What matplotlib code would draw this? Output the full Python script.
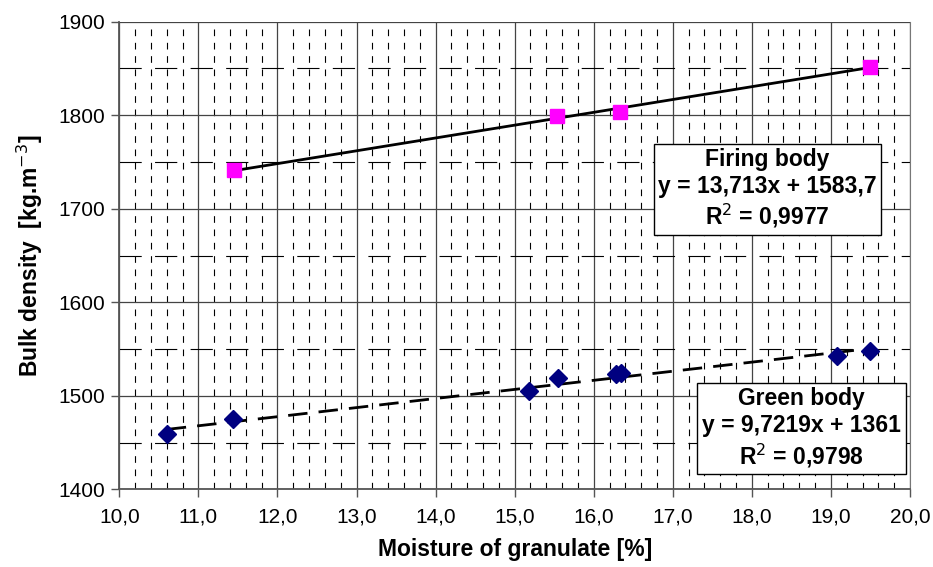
import matplotlib
matplotlib.use("Agg")
import matplotlib.pyplot as plt
from matplotlib.ticker import MultipleLocator, FuncFormatter

plt.rcParams['font.family'] = ['Liberation Sans', 'DejaVu Sans']

# Firing body
fire_x = [11.45, 15.53, 16.33, 19.49]
fire_y = [1741, 1799, 1803, 1852]
fire_k, fire_q = 13.713, 1583.7

# Green body
green_x = [10.6, 11.44, 15.18, 15.55, 16.28, 16.35, 19.08, 19.49]
green_y = [1459, 1475, 1505, 1519, 1523, 1524, 1543, 1548]
green_k, green_q = 9.7219, 1361.0

fig = plt.figure(figsize=(9.33, 5.67), dpi=100)
ax = fig.add_axes([0.1279, 0.137, 0.8474, 0.8247])

ax.set_xlim(10, 20)
ax.set_ylim(1400, 1900)
ax.xaxis.set_major_locator(MultipleLocator(1))
ax.xaxis.set_minor_locator(MultipleLocator(0.2))
ax.yaxis.set_major_locator(MultipleLocator(100))
ax.yaxis.set_minor_locator(MultipleLocator(50))
ax.xaxis.set_major_formatter(FuncFormatter(lambda v, p: ('%.1f' % v).replace('.', ',')))

ax.grid(which='major', color='#444444', lw=0.9, ls='-')
ax.grid(which='minor', axis='x', color='black', lw=0.8, ls=(0, (6, 6)))
ax.grid(which='minor', axis='y', color='black', lw=0.8, ls=(0, (20, 12)))
ax.set_axisbelow(True)

ax.tick_params(which='major', direction='out', length=6, width=1, labelsize=15, color='#555555')
ax.tick_params(axis='x', pad=7)
ax.tick_params(axis='y', pad=4)
ax.tick_params(which='minor', length=0)
for s in ['left', 'bottom']:
    ax.spines[s].set_color('#555555')
    ax.spines[s].set_linewidth(1.3)
ax.spines['top'].set_visible(False)
ax.spines['right'].set_color('#777777')

# trend lines from the fitted equations
fx = [min(fire_x), max(fire_x)]
ax.plot(fx, [fire_k * v + fire_q for v in fx], color='black', lw=2, zorder=3)
gx = [min(green_x), max(green_x)]
ax.plot(gx, [green_k * v + green_q for v in gx], color='black', lw=2, ls=(0, (7, 4)), zorder=3)

ax.plot(fire_x, fire_y, ls='none', marker='s', ms=9.5, color='#FF00FF', zorder=4)
ax.plot(green_x, green_y, ls='none', marker='D', ms=9.5, color='#000080', zorder=4)

box = dict(boxstyle='square,pad=0.2', fc='white', ec='black', lw=1)
ax.text(0.8198, 0.642, 'Firing body\ny = 13,713x + 1583,7\nR$^2$ = 0,9977', transform=ax.transAxes,
        ha='center', va='center', fontsize=16.5, fontweight='bold', linespacing=1.2, bbox=box, zorder=5)
ax.text(0.8628, 0.130, 'Green body\ny = 9,7219x + 1361\nR$^2$ = 0,9798', transform=ax.transAxes,
        ha='center', va='center', fontsize=16.5, fontweight='bold', linespacing=1.2, bbox=box, zorder=5)

fig.text(0.552, 0.031, 'Moisture of granulate [%]', fontsize=16.5, fontweight='bold',
         ha='center', va='center')
ax.set_ylabel('Bulk density  [kg.m$^{-3}$]', fontsize=16.5, fontweight='bold', labelpad=10)

fig.savefig('out.png', dpi=100)
